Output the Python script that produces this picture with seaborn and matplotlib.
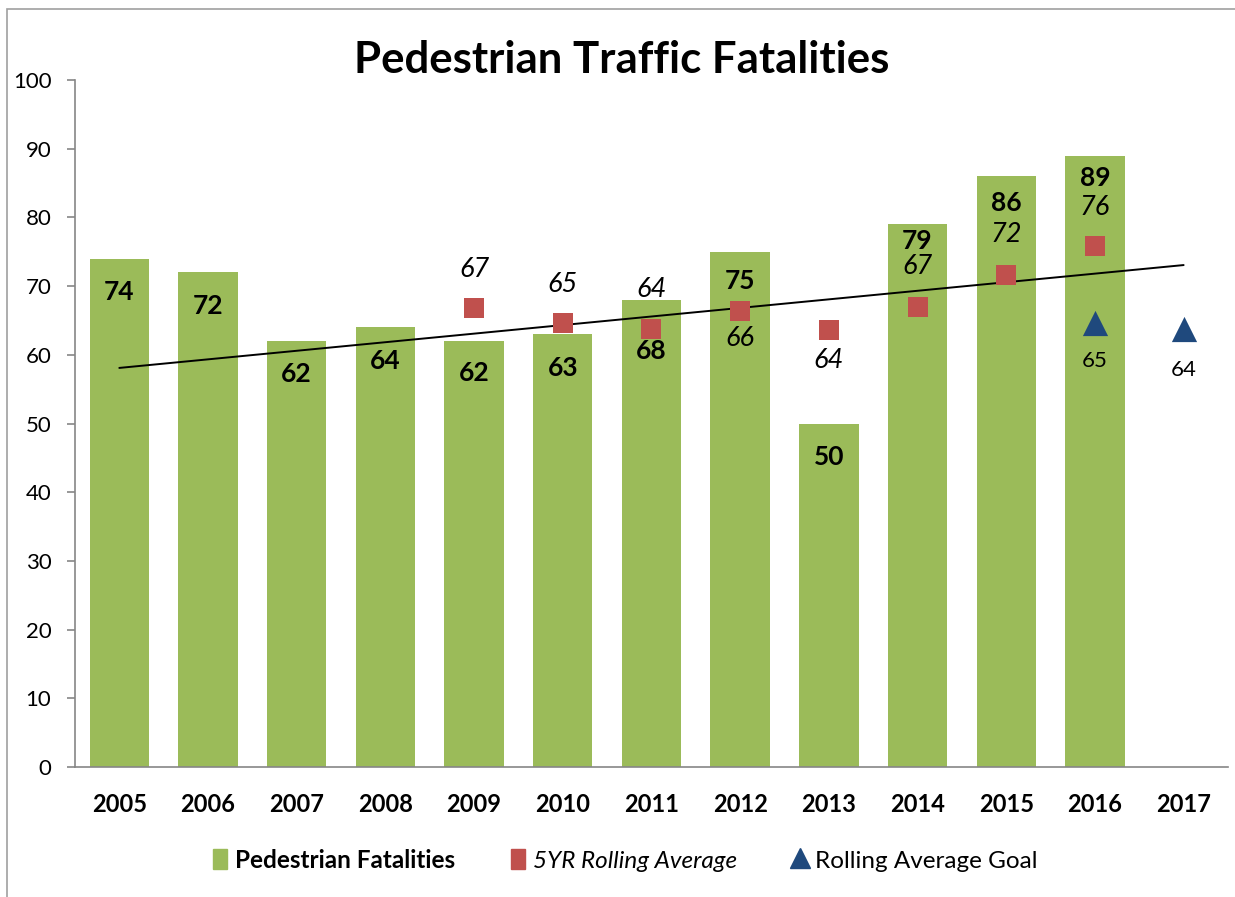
import numpy as np
import pandas as pd
import matplotlib
matplotlib.use("Agg")
import matplotlib.pyplot as plt
from matplotlib.lines import Line2D
from matplotlib.patches import Rectangle
import seaborn as sns

# data
years = ['2005', '2006', '2007', '2008', '2009', '2010', '2011',
         '2012', '2013', '2014', '2015', '2016', '2017']
fatal_years = years[:12]
fatalities = [74, 72, 62, 64, 62, 63, 68, 75, 50, 79, 86, 89]
avg_years = ['2009', '2010', '2011', '2012', '2013', '2014', '2015', '2016']
rolling_avg = [66.8, 64.6, 63.8, 66.4, 63.6, 67.0, 71.6, 75.8]
goal_years = ['2016', '2017']
goal = [64.7, 63.7]

# label offsets (points), just layout
bar_lbl_off = [-24, -24, -24, -24, -23, -24, -37, -21, -24, -12, -19, -16]
avg_lbl_off = [28, 28, 28, -20, -22, 29, 29, 28]
goal_lbl_off = [-28, -29]

GREEN = '#9BBB59'
RED = '#C0504D'
BLUE = '#1F497D'
GRAY = '#868686'

sns.set_style('white')
plt.rcParams['font.family'] = ['Lato', 'DejaVu Sans']
plt.rcParams['text.color'] = 'black'
plt.rcParams['xtick.color'] = 'black'
plt.rcParams['ytick.color'] = 'black'

fig = plt.figure(figsize=(12.35, 8.97), dpi=100)
ax = fig.add_axes([0.0607, 0.1449, 0.9336, 0.7659])

df = pd.DataFrame({'year': fatal_years, 'n': fatalities})
sns.barplot(data=df, x='year', y='n', order=years, color=GREEN,
            saturation=1, width=0.67, linewidth=0, ax=ax)

pos = {y: i for i, y in enumerate(years)}
avg_x = [pos[y] for y in avg_years]
goal_x = [pos[y] for y in goal_years]

sns.scatterplot(x=avg_x, y=rolling_avg, marker='s', s=205, color=RED,
                linewidth=0, ax=ax, zorder=4)
sns.scatterplot(x=goal_x, y=goal, marker='^', s=330, color=BLUE,
                linewidth=0, ax=ax, zorder=4)

# linear trend of the rolling average, stretched over all years
k, b = np.polyfit(avg_x, rolling_avg, 1)
tx = np.array([0, len(years) - 1])
ax.plot(tx, k * tx + b, color='black', lw=1.4, zorder=3)

for i, v in enumerate(fatalities):
    ax.annotate(f'{v}', (i, v), xytext=(0, bar_lbl_off[i]), textcoords='offset points',
                ha='center', va='center', fontsize=19, fontweight='bold', zorder=5)
for x, v, off in zip(avg_x, rolling_avg, avg_lbl_off):
    ax.annotate(f'{v:.0f}', (x, v), xytext=(0, off), textcoords='offset points',
                ha='center', va='center', fontsize=19.5, fontstyle='italic', zorder=5)
for x, v, off in zip(goal_x, goal, goal_lbl_off):
    ax.annotate(f'{v:.0f}', (x, v), xytext=(0, off), textcoords='offset points',
                ha='center', va='center', fontsize=16, zorder=5)

ax.set_xlim(-0.5, len(years) - 0.5)
ax.set_ylim(0, 100)
ax.set_yticks(range(0, 101, 10))
ax.set_xticks(range(len(years)))
ax.set_xticklabels(years, fontweight='bold', fontsize=17)
ax.set_xticks(np.arange(-0.5, len(years), 1), minor=True)
ax.tick_params(axis='x', which='major', length=0, pad=19)
ax.tick_params(axis='x', which='minor', length=6, color=GRAY, width=1.2)
ax.tick_params(axis='y', length=6, color=GRAY, width=1.2, labelsize=16, pad=11, left=True)
ax.set_xlabel('')
ax.set_ylabel('')
sns.despine(ax=ax)
for s in ['left', 'bottom']:
    ax.spines[s].set_color(GRAY)
    ax.spines[s].set_linewidth(1.2)

fig.text(0.503, 0.933, 'Pedestrian Traffic Fatalities', ha='center', va='center',
         fontsize=31.5, fontweight='bold')

handles = [Rectangle((0, 0), 1, 1, color=GREEN),
           Rectangle((0, 0), 1, 1, color=RED),
           Line2D([], [], marker='^', color=BLUE, ls='', markersize=14)]
leg = fig.legend(handles, ['Pedestrian Fatalities', '5YR Rolling Average', 'Rolling Average Goal'],
                 loc='center', bbox_to_anchor=(0.506, 0.041), ncol=3, frameon=False,
                 fontsize=17.5, handlelength=0.6, handleheight=0.9, handletextpad=0.3,
                 columnspacing=2.3)
txt = leg.get_texts()
txt[0].set_fontweight('bold')
txt[1].set_fontstyle('italic')

fig.patches.append(Rectangle((0.0057, -0.1), 2, 1.09, transform=fig.transFigure,
                             fill=False, edgecolor='#A0A0A0', lw=1.2))

fig.savefig('out.png', dpi=100)
